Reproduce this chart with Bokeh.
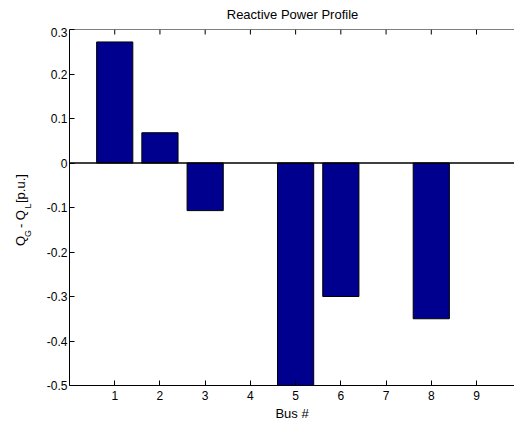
from bokeh.plotting import figure
from bokeh.layouts import row, column
from bokeh.models import LinearAxis, FixedTicker, Span, Range1d
from bokeh.core.properties import value
from bokeh.embed import file_html
from bokeh.resources import INLINE
import math

# ---- data ----
buses = [1, 2, 3, 4, 5, 6, 7, 8, 9]
q_values = [0.272, 0.068, -0.107, 0.0, -0.5, -0.300, 0.0, -0.350, 0.0]
x_ticks = [1, 2, 3, 4, 5, 6, 7, 8, 9]
y_ticks = [-0.5, -0.4, -0.3, -0.2, -0.1, 0.0, 0.1, 0.2, 0.3]
y_tick_labels = ["-0.5", "-0.4", "-0.3", "-0.2", "-0.1", "0", "0.1", "0.2", "0.3"]
title_text = ["Reactive Power Profile"]
x_label = "Bus #"
y_label_main = ["Q", " - Q", " [p.u.]"]
y_label_sub = ["G", "L"]

FONT = "Liberation Sans"
X0, X1 = 0.0, 9.84
Y0, Y1 = -0.5, 0.3
W, H = 514, 425
LW = 40   # width of the y-label strip
TH = 27   # height of the title strip


def strip(w, h):
    f = figure(width=w, height=h, output_backend="svg", toolbar_location=None,
               x_range=Range1d(0, w), y_range=Range1d(0, h),
               x_axis_location=None, y_axis_location=None, title=None,
               min_border_left=0, min_border_right=0, min_border_top=0, min_border_bottom=0)
    f.outline_line_color = None
    f.xgrid.visible = False
    f.ygrid.visible = False
    return f

# ---- title strip ----
top = strip(W, TH)
top.text(x=[292], y=[TH - 14], text=title_text, text_font=value(FONT),
         text_font_size="13px", text_align="center", text_baseline="middle",
         text_color="black")

# ---- y-label strip ----
HL = H - TH
lab = strip(LW, HL)
SHIFT = 21
def ly(py):
    return H - (py + SHIFT)
lab.text(x=[20, 20, 20], y=[ly(248), ly(228), ly(200)], text=y_label_main, angle=math.pi / 2,
         text_font=value(FONT), text_font_size="13px", text_align="left",
         text_baseline="middle", text_color="black")
lab.text(x=[27, 27], y=[ly(238), ly(206)], text=y_label_sub, angle=math.pi / 2,
         text_font=value(FONT), text_font_size="9px", text_align="left",
         text_baseline="middle", text_color="black")

# ---- main chart ----
p = figure(width=W - LW, height=HL, output_backend="svg", toolbar_location=None,
           x_range=Range1d(X0, X1), y_range=Range1d(Y0, Y1),
           x_axis_location=None, y_axis_location=None, title=None,
           min_border_left=69 - LW, min_border_right=0, min_border_top=29 - TH,
           min_border_bottom=40)
p.outline_line_color = None
p.xgrid.visible = False
p.ygrid.visible = False
p.background_fill_color = "white"
p.border_fill_color = "white"

def style(ax):
    ax.major_tick_in = 5
    ax.major_tick_out = 0
    ax.minor_tick_line_color = None
    ax.axis_line_color = "black"
    ax.major_tick_line_color = "black"
    ax.major_label_text_font = FONT
    ax.major_label_text_font_size = "12px"
    ax.major_label_text_color = "black"
    ax.axis_label_text_font = FONT
    ax.axis_label_text_font_size = "13px"
    ax.axis_label_text_font_style = "normal"
    ax.axis_label_text_color = "black"

xb = LinearAxis(ticker=FixedTicker(ticks=x_ticks), axis_label=x_label)
style(xb)
xb.major_label_standoff = 5
xb.axis_label_standoff = 3
p.add_layout(xb, "below")

yl = LinearAxis(ticker=FixedTicker(ticks=y_ticks))
style(yl)
yl.major_label_standoff = 2
yl.major_label_overrides = {t: s for t, s in zip(y_ticks, y_tick_labels)}
p.add_layout(yl, "left")

# bars (zero-height bars coincide with the baseline)
bx = [b for b, q in zip(buses, q_values) if q != 0]
bq = [q for q in q_values if q != 0]
p.vbar(x=bx, top=bq, bottom=0, width=0.8,
       fill_color="#00008F", line_color="black", line_width=1)

# baseline, top frame edge and inward top ticks
p.add_layout(Span(location=0, dimension="width", line_color="black", line_width=1.3))
p.add_layout(Span(location=Y1, dimension="width", line_color="black", line_width=1))
tick_len = 5 * (Y1 - Y0) / (385 - 29)
p.segment(x0=x_ticks, x1=x_ticks, y0=[Y1] * len(x_ticks), y1=[Y1 - tick_len] * len(x_ticks),
          line_color="black", line_width=1)

layout = column(top, row(lab, p), spacing=0)
open("out.html", "w").write(file_html(layout, INLINE))
